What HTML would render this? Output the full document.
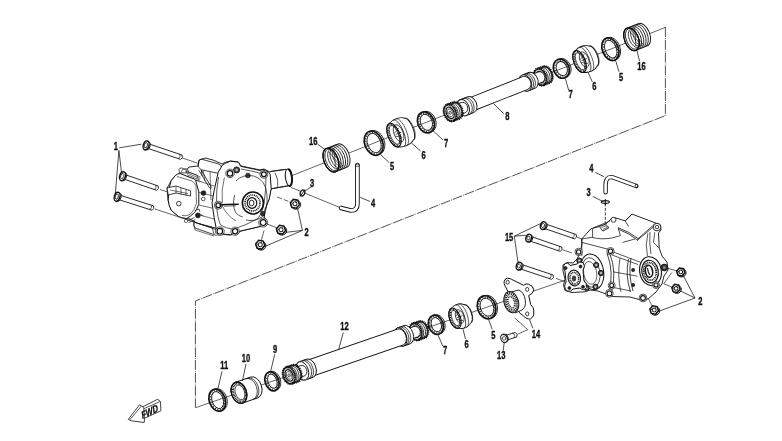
<!DOCTYPE html>
<html><head><meta charset="utf-8"><style>
html,body{margin:0;padding:0;background:#fff;}
svg{display:block;filter:grayscale(1);}
text{font-family:"Liberation Sans",sans-serif;font-weight:bold;fill:#111;text-anchor:middle;stroke:#111;stroke-width:0.35px;}
</style></head><body>
<svg width="782" height="441" viewBox="0 0 782 441">
<rect width="782" height="441" fill="#fff"/>
<path d="M665.4,27 L665.4,115.6 L195.4,301 L195.4,407.7" fill="none" stroke="#333" stroke-width="0.85" stroke-dasharray="10 1 0.8 1"/><line x1="291" y1="176" x2="665.38" y2="27.37" stroke="#222" stroke-width="0.7"/><line x1="195.5" y1="407.7" x2="573.63" y2="277.25" stroke="#222" stroke-width="0.7"/><g transform="translate(291,176) rotate(-21.65)"><g transform="translate(0,-1.5)"><path d="M367,-12 L379,-12 A7,12 0 0 1 379,12 L367,12 A7,12 0 0 1 367,-12Z" fill="#fff" stroke="#111" stroke-width="0.9"/><ellipse cx="367" cy="0" rx="7" ry="12" fill="#fff" stroke="#111" stroke-width="0.9"/><path d="M369.4,-12 A7,12 0 0 1 369.4,12" fill="none" stroke="#111" stroke-width="0.8"/><path d="M371.8,-12 A7,12 0 0 1 371.8,12" fill="none" stroke="#111" stroke-width="0.8"/><path d="M374.2,-12 A7,12 0 0 1 374.2,12" fill="none" stroke="#111" stroke-width="0.8"/><path d="M376.6,-12 A7,12 0 0 1 376.6,12" fill="none" stroke="#111" stroke-width="0.8"/><ellipse cx="367" cy="0" rx="7" ry="12" fill="none" stroke="#111" stroke-width="1.3" /><ellipse cx="367.9" cy="0" rx="6.1" ry="10.9" fill="none" stroke="#111" stroke-width="0.8" /><path d="M370,-9.8 A5.2,9.8 0 0 0 370,9.8" fill="none" stroke="#111" stroke-width="0.7"/><path d="M372.5,-9.8 A5.2,9.8 0 0 0 372.5,9.8" fill="none" stroke="#111" stroke-width="0.7"/><path d="M375,-9.8 A5.2,9.8 0 0 0 375,9.8" fill="none" stroke="#111" stroke-width="0.6"/><path d="M368,-8 L374,9 M368.5,8 L374,-9 M370,-10 L376,9.5" stroke="#111" stroke-width="0.6"/></g><path d="M343.6,-11.8 L345.4,-11.8 A8,11.8 0 0 1 345.4,11.8 L343.6,11.8" fill="none" stroke="#111" stroke-width="0.8"/><ellipse cx="343.6" cy="0" rx="8" ry="11.8" fill="none" stroke="#111" stroke-width="1.7" /><ellipse cx="343.8" cy="0" rx="6.7" ry="10.5" fill="none" stroke="#333" stroke-width="1.2" stroke-dasharray="1.2 1.4"/><ellipse cx="344" cy="0" rx="5.6" ry="9.3" fill="none" stroke="#111" stroke-width="0.9" /><path d="M310.5,-11.6 C314.5,-14.2 322,-14 325,-10.8 A4.2,10.8 0 0 1 325,10.8 C322,14 314.5,14.2 310.5,11.6 A5.8,11.6 0 0 1 310.5,-11.6Z" fill="#fff" stroke="#111" stroke-width="0.9"/><path d="M315.5,-13.4 A4.93,13.4 0 0 1 315.5,13.4" fill="none" stroke="#111" stroke-width="0.7"/><path d="M318.5,-13.4 A4.93,13.4 0 0 1 318.5,13.4" fill="none" stroke="#111" stroke-width="0.6"/><path d="M325,-10.8 A4.93,10.8 0 0 1 325,10.8" fill="none" stroke="#111" stroke-width="0.6"/><ellipse cx="310.5" cy="0" rx="5.8" ry="11.6" fill="none" stroke="#111" stroke-width="1.0" /><ellipse cx="310.8" cy="0" rx="4.8" ry="10.3" fill="none" stroke="#111" stroke-width="1.7" stroke-dasharray="0.9 0.8"/><ellipse cx="311" cy="0" rx="3.8" ry="9" fill="none" stroke="#111" stroke-width="0.7" /><ellipse cx="315.5" cy="0" rx="4.3" ry="8.1" fill="none" stroke="#111" stroke-width="0.7" /><path d="M311.5,-1.5 L317.5,-5 M311.5,1.5 L317.5,5 M312.5,0 L318.5,0" stroke="#111" stroke-width="0.6"/><path d="M290.9,-9.8 L292.7,-9.8 A7.8,9.8 0 0 1 292.7,9.8 L290.9,9.8" fill="none" stroke="#111" stroke-width="0.8"/><ellipse cx="290.9" cy="0" rx="7.8" ry="9.8" fill="none" stroke="#111" stroke-width="1.7" /><ellipse cx="291.1" cy="0" rx="6.5" ry="8.5" fill="none" stroke="#333" stroke-width="1.2" stroke-dasharray="1.2 1.4"/><ellipse cx="291.3" cy="0" rx="5.4" ry="7.3" fill="none" stroke="#111" stroke-width="0.9" /><path d="M268.1,-8.6 L274.6,-8.6 A5.8,8.6 0 0 1 274.6,8.6 L268.1,8.6 A5.8,8.6 0 0 1 268.1,-8.6Z" fill="#fff" stroke="#111" stroke-width="1.0"/><ellipse cx="268.1" cy="0" rx="5.8" ry="8.6" fill="#fff" stroke="#111" stroke-width="1.0"/><path d="M268.1,-8.6 L274.6,-8.6 A5.8,8.6 0 0 1 274.6,8.6 L268.1,8.6" fill="none" stroke="#111" stroke-width="2.6" stroke-dasharray="1 0.8"/><path d="M270.1,-8.6 A5.8,8.6 0 0 1 270.1,8.6" fill="none" stroke="#222" stroke-width="0.8"/><path d="M272.1,-8.6 A5.8,8.6 0 0 1 272.1,8.6" fill="none" stroke="#222" stroke-width="0.8"/><path d="M274.1,-8.6 A5.8,8.6 0 0 1 274.1,8.6" fill="none" stroke="#222" stroke-width="0.8"/><ellipse cx="268.1" cy="0" rx="5.8" ry="8.6" fill="none" stroke="#111" stroke-width="2.6" stroke-dasharray="1 0.8"/><ellipse cx="268.1" cy="0" rx="3.8" ry="6" fill="none" stroke="#111" stroke-width="1.2" /><ellipse cx="268.1" cy="0" rx="2.6" ry="4.1" fill="none" stroke="#111" stroke-width="0.6" /><ellipse cx="268.1" cy="0" rx="1.1" ry="1.5" fill="none" stroke="#111" stroke-width="0.8" /><path d="M259.1,-5.5 L268.1,-5.5 A4.5,5.5 0 0 1 268.1,5.5 L259.1,5.5 A4.5,5.5 0 0 1 259.1,-5.5Z" fill="#fff" stroke="#111" stroke-width="0.8"/><ellipse cx="259.1" cy="0" rx="4.5" ry="5.5" fill="#fff" stroke="#111" stroke-width="0.8"/><path d="M252.1,-8.5 L259.1,-8.5 A6,8.5 0 0 1 259.1,8.5 L252.1,8.5 A6,8.5 0 0 1 252.1,-8.5Z" fill="#fff" stroke="#111" stroke-width="0.9"/><ellipse cx="252.1" cy="0" rx="6" ry="8.5" fill="#fff" stroke="#111" stroke-width="0.9"/><path d="M254.1,-8.5 A6,8.5 0 0 1 254.1,8.5 M256.1,-8.5 A6,8.5 0 0 1 256.1,8.5" fill="none" stroke="#111" stroke-width="0.7"/><path d="M193.2,-6.8 L252.1,-6.8 A5.5,6.8 0 0 1 252.1,6.8 L193.2,6.8 A5.5,6.8 0 0 1 193.2,-6.8Z" fill="#fff" stroke="#111" stroke-width="0.9"/><ellipse cx="193.2" cy="0" rx="5.5" ry="6.8" fill="#fff" stroke="#111" stroke-width="0.9"/><path d="M185.2,-8.5 L193.2,-8.5 A6,8.5 0 0 1 193.2,8.5 L185.2,8.5 A6,8.5 0 0 1 185.2,-8.5Z" fill="#fff" stroke="#111" stroke-width="0.9"/><ellipse cx="185.2" cy="0" rx="6" ry="8.5" fill="#fff" stroke="#111" stroke-width="0.9"/><path d="M188.2,-8.5 A6,8.5 0 0 1 188.2,8.5 M190.2,-8.5 A6,8.5 0 0 1 190.2,8.5" fill="none" stroke="#111" stroke-width="0.7"/><path d="M178.2,-5.5 L185.2,-5.5 A4.5,5.5 0 0 1 185.2,5.5 L178.2,5.5 A4.5,5.5 0 0 1 178.2,-5.5Z" fill="#fff" stroke="#111" stroke-width="0.8"/><ellipse cx="178.2" cy="0" rx="4.5" ry="5.5" fill="#fff" stroke="#111" stroke-width="0.8"/><path d="M171.2,-8.6 L177.7,-8.6 A5.8,8.6 0 0 1 177.7,8.6 L171.2,8.6 A5.8,8.6 0 0 1 171.2,-8.6Z" fill="#fff" stroke="#111" stroke-width="1.0"/><ellipse cx="171.2" cy="0" rx="5.8" ry="8.6" fill="#fff" stroke="#111" stroke-width="1.0"/><path d="M171.2,-8.6 L177.7,-8.6 A5.8,8.6 0 0 1 177.7,8.6 L171.2,8.6" fill="none" stroke="#111" stroke-width="2.6" stroke-dasharray="1 0.8"/><path d="M173.2,-8.6 A5.8,8.6 0 0 1 173.2,8.6" fill="none" stroke="#222" stroke-width="0.8"/><path d="M175.2,-8.6 A5.8,8.6 0 0 1 175.2,8.6" fill="none" stroke="#222" stroke-width="0.8"/><path d="M177.2,-8.6 A5.8,8.6 0 0 1 177.2,8.6" fill="none" stroke="#222" stroke-width="0.8"/><ellipse cx="171.2" cy="0" rx="5.8" ry="8.6" fill="none" stroke="#111" stroke-width="2.6" stroke-dasharray="1 0.8"/><ellipse cx="171.2" cy="0" rx="3.8" ry="6" fill="none" stroke="#111" stroke-width="1.2" /><ellipse cx="171.2" cy="0" rx="2.6" ry="4.1" fill="none" stroke="#111" stroke-width="0.6" /><ellipse cx="171.2" cy="0" rx="1.1" ry="1.5" fill="none" stroke="#111" stroke-width="0.8" /><path d="M145.2,-10.8 L147,-10.8 A8.2,10.8 0 0 1 147,10.8 L145.2,10.8" fill="none" stroke="#111" stroke-width="0.8"/><ellipse cx="145.2" cy="0" rx="8.2" ry="10.8" fill="none" stroke="#111" stroke-width="1.7" /><ellipse cx="145.4" cy="0" rx="6.9" ry="9.5" fill="none" stroke="#333" stroke-width="1.2" stroke-dasharray="1.2 1.4"/><ellipse cx="145.6" cy="0" rx="5.8" ry="8.3" fill="none" stroke="#111" stroke-width="0.9" /><path d="M110.8,-12.6 C114.8,-15.2 123.8,-15 126.8,-11.8 A4.2,11.8 0 0 1 126.8,11.8 C123.8,15 114.8,15.2 110.8,12.6 A6,12.6 0 0 1 110.8,-12.6Z" fill="#fff" stroke="#111" stroke-width="0.9"/><path d="M115.8,-14.4 A5.1,14.4 0 0 1 115.8,14.4" fill="none" stroke="#111" stroke-width="0.7"/><path d="M118.8,-14.4 A5.1,14.4 0 0 1 118.8,14.4" fill="none" stroke="#111" stroke-width="0.6"/><path d="M126.8,-11.8 A5.1,11.8 0 0 1 126.8,11.8" fill="none" stroke="#111" stroke-width="0.6"/><ellipse cx="110.8" cy="0" rx="6" ry="12.6" fill="none" stroke="#111" stroke-width="1.0" /><ellipse cx="111.1" cy="0" rx="5" ry="11.3" fill="none" stroke="#111" stroke-width="1.7" stroke-dasharray="0.9 0.8"/><ellipse cx="111.3" cy="0" rx="4" ry="10" fill="none" stroke="#111" stroke-width="0.7" /><ellipse cx="115.8" cy="0" rx="4.5" ry="9.1" fill="none" stroke="#111" stroke-width="0.7" /><path d="M111.8,-1.5 L117.8,-5 M111.8,1.5 L117.8,5 M112.8,0 L118.8,0" stroke="#111" stroke-width="0.6"/><path d="M89,-12.5 L90.8,-12.5 A9,12.5 0 0 1 90.8,12.5 L89,12.5" fill="none" stroke="#111" stroke-width="0.8"/><ellipse cx="89" cy="0" rx="9" ry="12.5" fill="none" stroke="#111" stroke-width="1.7" /><ellipse cx="89.2" cy="0" rx="7.7" ry="11.2" fill="none" stroke="#333" stroke-width="1.2" stroke-dasharray="1.2 1.4"/><ellipse cx="89.4" cy="0" rx="6.6" ry="10" fill="none" stroke="#111" stroke-width="0.9" /><path d="M43,-12.5 L55,-12.5 A7,12.5 0 0 1 55,12.5 L43,12.5 A7,12.5 0 0 1 43,-12.5Z" fill="#fff" stroke="#111" stroke-width="0.9"/><ellipse cx="43" cy="0" rx="7" ry="12.5" fill="#fff" stroke="#111" stroke-width="0.9"/><path d="M45.4,-12.5 A7,12.5 0 0 1 45.4,12.5" fill="none" stroke="#111" stroke-width="0.8"/><path d="M47.8,-12.5 A7,12.5 0 0 1 47.8,12.5" fill="none" stroke="#111" stroke-width="0.8"/><path d="M50.2,-12.5 A7,12.5 0 0 1 50.2,12.5" fill="none" stroke="#111" stroke-width="0.8"/><path d="M52.6,-12.5 A7,12.5 0 0 1 52.6,12.5" fill="none" stroke="#111" stroke-width="0.8"/><ellipse cx="43" cy="0" rx="7" ry="12.5" fill="none" stroke="#111" stroke-width="1.3" /><ellipse cx="43.9" cy="0" rx="6.1" ry="11.4" fill="none" stroke="#111" stroke-width="0.8" /><path d="M46,-10.3 A5.2,10.3 0 0 0 46,10.3" fill="none" stroke="#111" stroke-width="0.7"/><path d="M48.5,-10.3 A5.2,10.3 0 0 0 48.5,10.3" fill="none" stroke="#111" stroke-width="0.7"/><path d="M51,-10.3 A5.2,10.3 0 0 0 51,10.3" fill="none" stroke="#111" stroke-width="0.6"/><path d="M44,-8.5 L50,9.5 M44.5,8.5 L50,-9.5 M46,-10.5 L52,10" stroke="#111" stroke-width="0.6"/></g><g transform="translate(195.5,407.7) rotate(-19.03)"><path d="M307.9,-11.8 L309.7,-11.8 A9,11.8 0 0 1 309.7,11.8 L307.9,11.8" fill="none" stroke="#111" stroke-width="0.8"/><ellipse cx="307.9" cy="0" rx="9" ry="11.8" fill="none" stroke="#111" stroke-width="1.7" /><ellipse cx="308.1" cy="0" rx="7.7" ry="10.5" fill="none" stroke="#333" stroke-width="1.2" stroke-dasharray="1.2 1.4"/><ellipse cx="308.3" cy="0" rx="6.6" ry="9.3" fill="none" stroke="#111" stroke-width="0.9" /><path d="M274.5,-10.6 C278.5,-13.2 284.5,-13 287.5,-9.8 A4.2,9.8 0 0 1 287.5,9.8 C284.5,13 278.5,13.2 274.5,10.6 A5.5,10.6 0 0 1 274.5,-10.6Z" fill="#fff" stroke="#111" stroke-width="0.9"/><path d="M279.5,-12.4 A4.67,12.4 0 0 1 279.5,12.4" fill="none" stroke="#111" stroke-width="0.7"/><path d="M282.5,-12.4 A4.67,12.4 0 0 1 282.5,12.4" fill="none" stroke="#111" stroke-width="0.6"/><path d="M287.5,-9.8 A4.67,9.8 0 0 1 287.5,9.8" fill="none" stroke="#111" stroke-width="0.6"/><ellipse cx="274.5" cy="0" rx="5.5" ry="10.6" fill="none" stroke="#111" stroke-width="1.0" /><ellipse cx="274.8" cy="0" rx="4.5" ry="9.3" fill="none" stroke="#111" stroke-width="1.7" stroke-dasharray="0.9 0.8"/><ellipse cx="275" cy="0" rx="3.5" ry="8" fill="none" stroke="#111" stroke-width="0.7" /><ellipse cx="279.5" cy="0" rx="4" ry="7.1" fill="none" stroke="#111" stroke-width="0.7" /><path d="M275.5,-1.5 L281.5,-5 M275.5,1.5 L281.5,5 M276.5,0 L282.5,0" stroke="#111" stroke-width="0.6"/><path d="M254.3,-9.8 L256.1,-9.8 A7.3,9.8 0 0 1 256.1,9.8 L254.3,9.8" fill="none" stroke="#111" stroke-width="0.8"/><ellipse cx="254.3" cy="0" rx="7.3" ry="9.8" fill="none" stroke="#111" stroke-width="1.7" /><ellipse cx="254.5" cy="0" rx="6" ry="8.5" fill="none" stroke="#333" stroke-width="1.2" stroke-dasharray="1.2 1.4"/><ellipse cx="254.7" cy="0" rx="4.9" ry="7.3" fill="none" stroke="#111" stroke-width="0.9" /><path d="M232.9,-8.6 L239.4,-8.6 A5.8,8.6 0 0 1 239.4,8.6 L232.9,8.6 A5.8,8.6 0 0 1 232.9,-8.6Z" fill="#fff" stroke="#111" stroke-width="1.0"/><ellipse cx="232.9" cy="0" rx="5.8" ry="8.6" fill="#fff" stroke="#111" stroke-width="1.0"/><path d="M232.9,-8.6 L239.4,-8.6 A5.8,8.6 0 0 1 239.4,8.6 L232.9,8.6" fill="none" stroke="#111" stroke-width="2.6" stroke-dasharray="1 0.8"/><path d="M234.9,-8.6 A5.8,8.6 0 0 1 234.9,8.6" fill="none" stroke="#222" stroke-width="0.8"/><path d="M236.9,-8.6 A5.8,8.6 0 0 1 236.9,8.6" fill="none" stroke="#222" stroke-width="0.8"/><path d="M238.9,-8.6 A5.8,8.6 0 0 1 238.9,8.6" fill="none" stroke="#222" stroke-width="0.8"/><ellipse cx="232.9" cy="0" rx="5.8" ry="8.6" fill="none" stroke="#111" stroke-width="2.6" stroke-dasharray="1 0.8"/><ellipse cx="232.9" cy="0" rx="3.8" ry="6" fill="none" stroke="#111" stroke-width="1.2" /><ellipse cx="232.9" cy="0" rx="2.6" ry="4.1" fill="none" stroke="#111" stroke-width="0.6" /><ellipse cx="232.9" cy="0" rx="1.1" ry="1.5" fill="none" stroke="#111" stroke-width="0.8" /><path d="M223.9,-5.5 L232.9,-5.5 A4.5,5.5 0 0 1 232.9,5.5 L223.9,5.5 A4.5,5.5 0 0 1 223.9,-5.5Z" fill="#fff" stroke="#111" stroke-width="0.8"/><ellipse cx="223.9" cy="0" rx="4.5" ry="5.5" fill="#fff" stroke="#111" stroke-width="0.8"/><path d="M216.9,-9.6 L223.9,-9.6 A6,9.6 0 0 1 223.9,9.6 L216.9,9.6 A6,9.6 0 0 1 216.9,-9.6Z" fill="#fff" stroke="#111" stroke-width="0.9"/><ellipse cx="216.9" cy="0" rx="6" ry="9.6" fill="#fff" stroke="#111" stroke-width="0.9"/><path d="M218.9,-9.6 A6,9.6 0 0 1 218.9,9.6 M220.9,-9.6 A6,9.6 0 0 1 220.9,9.6" fill="none" stroke="#111" stroke-width="0.7"/><path d="M121,-8.4 L216.9,-8.4 A5.5,8.4 0 0 1 216.9,8.4 L121,8.4 A5.5,8.4 0 0 1 121,-8.4Z" fill="#fff" stroke="#111" stroke-width="0.9"/><ellipse cx="121" cy="0" rx="5.5" ry="8.4" fill="#fff" stroke="#111" stroke-width="0.9"/><path d="M113,-9.6 L121,-9.6 A6,9.6 0 0 1 121,9.6 L113,9.6 A6,9.6 0 0 1 113,-9.6Z" fill="#fff" stroke="#111" stroke-width="0.9"/><ellipse cx="113" cy="0" rx="6" ry="9.6" fill="#fff" stroke="#111" stroke-width="0.9"/><path d="M116,-9.6 A6,9.6 0 0 1 116,9.6 M118,-9.6 A6,9.6 0 0 1 118,9.6" fill="none" stroke="#111" stroke-width="0.7"/><path d="M106,-5.5 L113,-5.5 A4.5,5.5 0 0 1 113,5.5 L106,5.5 A4.5,5.5 0 0 1 106,-5.5Z" fill="#fff" stroke="#111" stroke-width="0.8"/><ellipse cx="106" cy="0" rx="4.5" ry="5.5" fill="#fff" stroke="#111" stroke-width="0.8"/><path d="M99,-8.6 L105.5,-8.6 A5.8,8.6 0 0 1 105.5,8.6 L99,8.6 A5.8,8.6 0 0 1 99,-8.6Z" fill="#fff" stroke="#111" stroke-width="1.0"/><ellipse cx="99" cy="0" rx="5.8" ry="8.6" fill="#fff" stroke="#111" stroke-width="1.0"/><path d="M99,-8.6 L105.5,-8.6 A5.8,8.6 0 0 1 105.5,8.6 L99,8.6" fill="none" stroke="#111" stroke-width="2.6" stroke-dasharray="1 0.8"/><path d="M101,-8.6 A5.8,8.6 0 0 1 101,8.6" fill="none" stroke="#222" stroke-width="0.8"/><path d="M103,-8.6 A5.8,8.6 0 0 1 103,8.6" fill="none" stroke="#222" stroke-width="0.8"/><path d="M105,-8.6 A5.8,8.6 0 0 1 105,8.6" fill="none" stroke="#222" stroke-width="0.8"/><ellipse cx="99" cy="0" rx="5.8" ry="8.6" fill="none" stroke="#111" stroke-width="2.6" stroke-dasharray="1 0.8"/><ellipse cx="99" cy="0" rx="3.8" ry="6" fill="none" stroke="#111" stroke-width="1.2" /><ellipse cx="99" cy="0" rx="2.6" ry="4.1" fill="none" stroke="#111" stroke-width="0.6" /><ellipse cx="99" cy="0" rx="1.1" ry="1.5" fill="none" stroke="#111" stroke-width="0.8" /><path d="M80.9,-9.8 L82.7,-9.8 A6.8,9.8 0 0 1 82.7,9.8 L80.9,9.8" fill="none" stroke="#111" stroke-width="0.8"/><ellipse cx="80.9" cy="0" rx="6.8" ry="9.8" fill="none" stroke="#111" stroke-width="1.7" /><ellipse cx="81.1" cy="0" rx="5.5" ry="8.5" fill="none" stroke="#333" stroke-width="1.2" stroke-dasharray="1.2 1.4"/><ellipse cx="81.3" cy="0" rx="4.4" ry="7.3" fill="none" stroke="#111" stroke-width="0.9" /><path d="M46,-11 L62,-11 A7.5,11 0 0 1 62,11 L46,11 A7.5,11 0 0 1 46,-11Z" fill="#fff" stroke="#111" stroke-width="0.9"/><ellipse cx="46" cy="0" rx="7.5" ry="11" fill="#fff" stroke="#111" stroke-width="0.9"/><path d="M57,-11 A7.5,11 0 0 1 57,11 M59,-10.8 A7.2,10.8 0 0 1 59,10.8" fill="none" stroke="#111" stroke-width="0.7"/><ellipse cx="46" cy="0" rx="7.5" ry="11" fill="none" stroke="#111" stroke-width="1.4" /><ellipse cx="46.5" cy="0" rx="6" ry="9.3" fill="none" stroke="#111" stroke-width="2.2" stroke-dasharray="0.8 0.7"/><ellipse cx="47" cy="0" rx="4.6" ry="7.6" fill="none" stroke="#111" stroke-width="0.7" /><path d="M23,-11.3 L24.8,-11.3 A8,11.3 0 0 1 24.8,11.3 L23,11.3" fill="none" stroke="#111" stroke-width="0.8"/><ellipse cx="23" cy="0" rx="8" ry="11.3" fill="none" stroke="#111" stroke-width="1.7" /><ellipse cx="23.2" cy="0" rx="6.7" ry="10" fill="none" stroke="#333" stroke-width="1.2" stroke-dasharray="1.2 1.4"/><ellipse cx="23.4" cy="0" rx="5.6" ry="8.8" fill="none" stroke="#111" stroke-width="0.9" /></g><line x1="150" y1="147" x2="200" y2="164" stroke="#222" stroke-width="0.7" /><line x1="160" y1="189.5" x2="186" y2="198" stroke="#222" stroke-width="0.7" /><line x1="155" y1="209" x2="200" y2="224" stroke="#222" stroke-width="0.7" /><path d="M186,171 L189,167 L198,166 L199,160 L205,158 L213,160 L222,164 L226,162 L231,161 L238,162 L241,166 L260,170 L264,169 L270,172 L271,171.4 L285.5,169.4 L289,172 L291,178 L289,185.7 L271,188.8 L269,199 L265,209 L264,217 L266,220 L265.5,225.5 L260,226.5 L241,231 L236,234 L230,235 L218,234 L216,228 L210,227 L197,223 L190,219 L186,218.5 L178,216 L171,210 L168,200 L167,188 L169,185 L171,181 L175,176 L180,173.6Z" fill="#fff" stroke="#111" stroke-width="0.9"/><path d="M201,159 Q198.5,160 198.4,164 L198.4,167 L201.3,169.8 L222,174 M201,159 L219.4,164.2 M201.3,169.8 L202,176 M219.4,164.2 Q223,167 222,174" fill="none" stroke="#111" stroke-width="0.8"/><path d="M187.7,171.5 L200.5,177 M187.3,173 L200.3,178.6 M187,174.6 L200,180.2 M186.7,176.2 L199.7,181.8" fill="none" stroke="#111" stroke-width="0.6"/><path d="M199,170.4 L209.2,187.4 M201,169.6 L211,186.6 M209.2,187.4 Q211.5,190 211,186.6" fill="none" stroke="#111" stroke-width="0.8"/><path d="M179,169.5 Q179.5,167.5 182,168 L184,169 Q186,168 188,169.5 L188.2,173 L179.5,172.8 Z" fill="#fff" stroke="#111" stroke-width="0.7"/><path d="M194.5,222.2 L216,229.5 M195,228 L216.5,235.5 M194.5,222.2 Q192.5,225 195,228" fill="none" stroke="#111" stroke-width="0.8"/><path d="M187.7,220.5 L194.5,217.7 M188.5,222.5 L195.3,219.7" fill="none" stroke="#111" stroke-width="0.7"/><path d="M196,180 L214,186 M198,192 L213,196 M199,205 L212,208 M196,214 L214,219 M203,170 L205,181 M210,172 L211,200 M193,221 L195,230 L214,236" fill="none" stroke="#111" stroke-width="0.6"/><path d="M200,224 L212,227 L214,234" fill="none" stroke="#111" stroke-width="0.7"/><path d="M175.3,175.6 Q178,173 180.4,173.6 L190.6,177.7 Q195,178.5 195.7,180.7 L198.8,191.9 L198.8,204.2 Q197,209 194.7,212.3 Q190,217 186.5,218.5 Q181,218 178.4,216.4 L171.2,210.3 Q168.5,205 168.2,200.1 L169.2,189.9 Q170,183 171.2,180.7 Z" fill="#fff" stroke="#111" stroke-width="1"/><path d="M177,176.5 L192,181 Q195,183 196,186 L196.5,203 Q195,210 190,214.5 Q186,216.5 182,215.5" fill="none" stroke="#111" stroke-width="0.6"/><path d="M167.1,187.9 L176,186 L190.6,190.9 L190.6,196 L176,193 L168.2,195 Z" fill="#fff" stroke="#111" stroke-width="0.8"/><path d="M170,190 L188,193.5 M176,186 L176,193 M181,188 L181,194.5 M186,189.5 L186,195.5" fill="none" stroke="#111" stroke-width="0.6"/><circle cx="178.8" cy="203.6" r="2.3" fill="#fff" stroke="#111" stroke-width="0.8"/><path d="M181,172 L183,169 L187,170 L186,173 M185,171 L197,175 L198,179" fill="none" stroke="#111" stroke-width="0.6"/><circle cx="203.5" cy="193.1" r="2.4" fill="#222" stroke="#111" stroke-width="0.6"/><circle cx="203.2" cy="199" r="1.8" fill="#fff" stroke="#111" stroke-width="0.7"/><circle cx="197.9" cy="215.4" r="2.4" fill="#222" stroke="#111" stroke-width="0.8"/><path d="M196,210 L199,209 L200,212 M200.5,214 L203,216" fill="none" stroke="#111" stroke-width="0.7"/><circle cx="186" cy="221" r="1.6" fill="#fff" stroke="#111" stroke-width="0.6"/><path d="M225.3,163.3 L230.4,161.2 L238.6,162.2 L240.6,166.3 L260,170.4 L263,169.4 L269.2,172.4 L270.2,174.5 L271.2,188.8 L269.2,199 L265.1,209.2 L264.1,217.3 L266,220 L265.5,225.5 L260,226.5 L240.6,231 L235.5,233.7 L230.4,234.7 L218.2,233.7 L216.1,227.6 L214.1,217.3 L212,203 L214.1,190.8 L218.2,172.4 L222.2,165.3Z" fill="#fff" stroke="#111" stroke-width="1"/><path d="M218.5,177 Q216,190 216.5,205 Q217.5,218 220.3,224.6 Q226,229 234.6,228.7 L245.8,224.6 L258,218.5 Q262,214 264,204 Q266,190 266,178 Q262,173 256,172 L241,169" fill="none" stroke="#111" stroke-width="0.7"/><path d="M224.4,177.5 Q221,190 222.3,203" fill="none" stroke="#111" stroke-width="0.6"/><circle cx="236.6" cy="169.9" r="3" fill="#444" stroke="#111" stroke-width="0.9"/><circle cx="236.6" cy="169.9" r="1.3" fill="#bbb"/><circle cx="247.9" cy="175.5" r="2.3" fill="#444" stroke="#111" stroke-width="0.8"/><circle cx="262.8" cy="213.6" r="2.2" fill="#333" stroke="#111" stroke-width="0.8"/><path d="M234.6,195 Q232,206 235.6,212.3 Q238,216 242.8,217" fill="none" stroke="#111" stroke-width="0.7"/><path d="M275,172.8 Q279,180 277.7,187.6" fill="none" stroke="#111" stroke-width="0.7"/><path d="M236,181 Q242,174 254,176 Q266,180 267,195 Q268,210 262,217 Q254,222 246,220" fill="none" stroke="#111" stroke-width="0.7"/><path d="M222,205 Q226,215 236,221" fill="none" stroke="#111" stroke-width="0.6"/><ellipse cx="252.9" cy="203" rx="10.5" ry="11" fill="#fff" stroke="#111" stroke-width="1.6"/><ellipse cx="252.5" cy="203" rx="7.5" ry="8" fill="none" stroke="#111" stroke-width="1.6" stroke-dasharray="1 0.8"/><ellipse cx="252" cy="203" rx="4.8" ry="5.3" fill="none" stroke="#111" stroke-width="1.2"/><ellipse cx="251.6" cy="203" rx="2.4" ry="2.8" fill="none" stroke="#111" stroke-width="0.9"/><path d="M271,171.4 L285.5,169.4 M271.5,188.8 L288.6,185.7" fill="none" stroke="#111" stroke-width="0.8"/><ellipse cx="288.6" cy="177.4" rx="3.2" ry="8.5" fill="#fff" stroke="#111" stroke-width="1.0" transform="rotate(-8 288.6 177.4)"/><path d="M288.2,169 A3.2,8.5 -8 0 1 289,185.8" fill="none" stroke="#111" stroke-width="2"/><circle cx="230" cy="173.4" r="4.300000000000001" fill="#fff" stroke="#111" stroke-width="0.7"/><circle cx="230" cy="173.4" r="2.7" fill="#fff" stroke="#111" stroke-width="1.2"/><circle cx="263.9" cy="174.3" r="4.0" fill="#fff" stroke="#111" stroke-width="0.7"/><circle cx="263.9" cy="174.3" r="2.4" fill="#fff" stroke="#111" stroke-width="1.2"/><circle cx="218.3" cy="205.2" r="4.0" fill="#fff" stroke="#111" stroke-width="0.7"/><circle cx="218.3" cy="205.2" r="2.4" fill="#fff" stroke="#111" stroke-width="1.2"/><circle cx="219.8" cy="231.2" r="4.4" fill="#fff" stroke="#111" stroke-width="0.7"/><circle cx="219.8" cy="231.2" r="2.8" fill="#fff" stroke="#111" stroke-width="1.2"/><circle cx="235.1" cy="231.2" r="4.2" fill="#fff" stroke="#111" stroke-width="0.7"/><circle cx="235.1" cy="231.2" r="2.6" fill="#fff" stroke="#111" stroke-width="1.2"/><circle cx="263.2" cy="222.6" r="4.5" fill="#fff" stroke="#111" stroke-width="0.7"/><circle cx="263.2" cy="222.6" r="2.9" fill="#fff" stroke="#111" stroke-width="1.2"/><path d="M219.5,205 L226,204.5 L238.7,204.2" fill="none" stroke="#111" stroke-width="1.4"/><path d="M224,206.2 L236,205.8" fill="none" stroke="#111" stroke-width="0.6"/><g transform="translate(146.1,145.4) rotate(18.53)"><path d="M2,-2.3 L37.21,-2.3 Q39.51,0 37.21,2.3 L2,2.3" fill="#fff" stroke="#111" stroke-width="0.8"/><path d="M34.21,-2.3 A1.5,2.3 0 0 1 34.21,2.3" fill="none" stroke="#111" stroke-width="0.6"/><ellipse cx="1.8" cy="0" rx="2.2" ry="4.2" fill="#fff" stroke="#111" stroke-width="0.9"/><ellipse cx="0" cy="0" rx="2.8" ry="4.6" fill="#fff" stroke="#111" stroke-width="1.4"/><ellipse cx="-0.3" cy="0" rx="1.5" ry="2.7" fill="none" stroke="#111" stroke-width="0.8"/></g><g transform="translate(122.5,176.2) rotate(18.86)"><path d="M2,-2.3 L36.86,-2.3 Q39.16,0 36.86,2.3 L2,2.3" fill="#fff" stroke="#111" stroke-width="0.8"/><path d="M33.86,-2.3 A1.5,2.3 0 0 1 33.86,2.3" fill="none" stroke="#111" stroke-width="0.6"/><ellipse cx="1.8" cy="0" rx="2.2" ry="4.2" fill="#fff" stroke="#111" stroke-width="0.9"/><ellipse cx="0" cy="0" rx="2.8" ry="4.6" fill="#fff" stroke="#111" stroke-width="1.4"/><ellipse cx="-0.3" cy="0" rx="1.5" ry="2.7" fill="none" stroke="#111" stroke-width="0.8"/></g><g transform="translate(117.1,196.7) rotate(17.64)"><path d="M2,-2.3 L37.43,-2.3 Q39.73,0 37.43,2.3 L2,2.3" fill="#fff" stroke="#111" stroke-width="0.8"/><path d="M34.43,-2.3 A1.5,2.3 0 0 1 34.43,2.3" fill="none" stroke="#111" stroke-width="0.6"/><ellipse cx="1.8" cy="0" rx="2.2" ry="4.2" fill="#fff" stroke="#111" stroke-width="0.9"/><ellipse cx="0" cy="0" rx="2.8" ry="4.6" fill="#fff" stroke="#111" stroke-width="1.4"/><ellipse cx="-0.3" cy="0" rx="1.5" ry="2.7" fill="none" stroke="#111" stroke-width="0.8"/></g><line x1="277.2" y1="197" x2="294.9" y2="203.8" stroke="#222" stroke-width="0.7" stroke-dasharray="5 2"/><line x1="266.3" y1="223.6" x2="281" y2="229.7" stroke="#222" stroke-width="0.7" /><line x1="264" y1="230.6" x2="260.2" y2="244.7" stroke="#222" stroke-width="0.7" /><ellipse cx="295.7" cy="204.6" rx="4.9" ry="4.6" fill="#fff" stroke="#111" stroke-width="1"/><polygon points="299.43,204.61 296.47,208.21 291.94,207.39 290.37,202.99 293.33,199.39 297.86,200.21" fill="#fff" stroke="#111" stroke-width="1.5"/><circle cx="294.9" cy="203.8" r="2.07" fill="none" stroke="#111" stroke-width="1"/><path d="M291.22,202.88 L293.52,203.8 M296.28,200.58 L295.82,202.65 M296.28,205.18 L297.66,207.02" stroke="#111" stroke-width="0.7"/><ellipse cx="281.8" cy="230.5" rx="4.9" ry="4.6" fill="#fff" stroke="#111" stroke-width="1"/><polygon points="285.53,230.51 282.57,234.11 278.04,233.29 276.47,228.89 279.43,225.29 283.96,226.11" fill="#fff" stroke="#111" stroke-width="1.5"/><circle cx="281" cy="229.7" r="2.07" fill="none" stroke="#111" stroke-width="1"/><path d="M277.32,228.78 L279.62,229.7 M282.38,226.48 L281.92,228.55 M282.38,231.08 L283.76,232.92" stroke="#111" stroke-width="0.7"/><ellipse cx="261" cy="245.5" rx="4.9" ry="4.6" fill="#fff" stroke="#111" stroke-width="1"/><polygon points="264.73,245.51 261.77,249.11 257.24,248.29 255.67,243.89 258.63,240.29 263.16,241.11" fill="#fff" stroke="#111" stroke-width="1.5"/><circle cx="260.2" cy="244.7" r="2.07" fill="none" stroke="#111" stroke-width="1"/><path d="M256.52,243.78 L258.82,244.7 M261.58,241.48 L261.12,243.55 M261.58,246.08 L262.96,247.92" stroke="#111" stroke-width="0.7"/><line x1="291" y1="187.4" x2="340.5" y2="207.8" stroke="#222" stroke-width="0.7" /><ellipse cx="302.5" cy="193" rx="2.2" ry="3.2" fill="#fff" stroke="#111" stroke-width="1.2" transform="rotate(20 302.5 193)"/><path d="M300.2,196.5 L304.8,189.5" stroke="#111" stroke-width="0.9"/><path d="M357.4,165 L357.4,204 Q357.4,210.5 351,210.5 L341,208" fill="none" stroke="#111" stroke-width="4.6" stroke-linecap="round" stroke-linejoin="round"/><path d="M357.4,165 L357.4,204 Q357.4,210.5 351,210.5 L341,208" fill="none" stroke="#fff" stroke-width="2.8" stroke-linecap="round" stroke-linejoin="round"/><ellipse cx="357.4" cy="165.3" rx="2.1" ry="1.1" fill="none" stroke="#111" stroke-width="0.7"/><line x1="576.9" y1="237.2" x2="592" y2="242.5" stroke="#222" stroke-width="0.7" /><line x1="562.4" y1="249.7" x2="572" y2="253" stroke="#222" stroke-width="0.7" /><path d="M581.8,239 L590.9,228.8 L593.1,228.2 L599.4,226.5 L605.6,224.3 L610.1,219.7 L613.5,217.5 L618,218.6 L625.2,220.9 L632,214.1 L655.8,223.1 L660.5,225 L661,230 L658.5,233 L659.2,248.1 L662,256 L667,262 L668,270 L664,276 L662,284 L656,292 L648,299 L641,300 L630,297 L612,296.5 L606,294 L598,291 L590,290 L585,291.8 L572,292.5 L565,290.5 L563.5,285 L565,279 L563,271 L563,265 L567,262.5 L573,263 L577,259 L580,253 L581.8,245Z" fill="#fff" stroke="#111" stroke-width="0.9"/><path d="M593,228 L610,221 M592.6,229 L592.6,237.3 M592,237.3 Q601,240 612.4,237.9 L620.4,235.6 L618,227.7 M581.8,239 L592,237.3 M581.8,242.4 L607.9,249.2 M622.6,242.4 L635,239 M581.8,239 L581.8,256" fill="none" stroke="#111" stroke-width="0.75"/><path d="M599.4,226.5 L605.6,224.3 L609,227.7 L602.8,231.1 Z" fill="#fff" stroke="#111" stroke-width="0.9"/><path d="M601.5,227.5 L606,225.8 L607.3,227.4 L603,229.3" fill="none" stroke="#111" stroke-width="0.6"/><circle cx="613.5" cy="219.8" r="2.5" fill="#fff" stroke="#111" stroke-width="0.8"/><path d="M618,227.7 L628.3,232.2 L638.8,239 M618.5,229.3 L628,233.6 L638,240.3" fill="none" stroke="#111" stroke-width="0.8"/><path d="M625.2,220.9 L628.6,226.5 M632,214.1 L625.2,220.9 M655.8,223.1 L637.7,239 M654,226.5 L637,240.5" fill="none" stroke="#111" stroke-width="0.75"/><circle cx="657" cy="227.1" r="3.8" fill="#fff" stroke="#111" stroke-width="0.9"/><circle cx="657" cy="227.1" r="1.7" fill="none" stroke="#111" stroke-width="0.8"/><path d="M647.9,233.3 Q645,245 647.4,256 M654.7,232.2 L653.5,242.4 L659.2,248.1 M650,232 Q649,243 651,254" fill="none" stroke="#111" stroke-width="0.7"/><path d="M612,251.5 L641.2,262.5 M612,255 L638,264.5 M613,271.8 L637.4,276.2 M613,287.4 L631,291 M620,258 Q617,275 621,292" fill="none" stroke="#111" stroke-width="0.7"/><path d="M628.5,259 Q625,275 630.5,292 M631,258 Q628,275 633,291" fill="none" stroke="#111" stroke-width="0.8"/><path d="M609.5,252.5 Q617.5,273 611,293.6 M607,253 Q614.5,273 608.5,293" fill="none" stroke="#111" stroke-width="0.8"/><ellipse cx="650.5" cy="271.2" rx="10.8" ry="14.6" fill="#fff" stroke="#111" stroke-width="1.1" transform="rotate(-10 650.5 271.2)"/><ellipse cx="650" cy="271.5" rx="8.2" ry="11.4" fill="#fff" stroke="#111" stroke-width="1.2" transform="rotate(-10 650.5 271.2)"/><ellipse cx="649.9" cy="271.3" rx="6.2" ry="8.8" fill="none" stroke="#111" stroke-width="1.7" stroke-dasharray="1 0.7" transform="rotate(-10 650.5 271.2)"/><ellipse cx="649" cy="271" rx="3.6" ry="6" fill="#fff" stroke="#111" stroke-width="1.6" transform="rotate(-10 650.5 271.2)"/><path d="M647.5,268 Q648,273 650,275" fill="none" stroke="#222" stroke-width="1.2"/><circle cx="664.3" cy="267.5" r="3.4" fill="#333" stroke="#111" stroke-width="0.8"/><circle cx="664.3" cy="267.5" r="1.3" fill="#999"/><circle cx="633.1" cy="270" r="1.9" fill="#222"/><circle cx="633.1" cy="285" r="1.9" fill="#222"/><circle cx="643" cy="298" r="3.9" fill="#fff" stroke="#111" stroke-width="0.7"/><circle cx="643" cy="298" r="2.4" fill="#fff" stroke="#111" stroke-width="1.1"/><circle cx="609.4" cy="293.4" r="3.9" fill="#fff" stroke="#111" stroke-width="0.7"/><circle cx="609.4" cy="293.4" r="2.4" fill="#fff" stroke="#111" stroke-width="1.1"/><circle cx="611.7" cy="285.5" r="3.5" fill="#fff" stroke="#111" stroke-width="0.7"/><circle cx="611.7" cy="285.5" r="2.0" fill="#fff" stroke="#111" stroke-width="1.1"/><circle cx="656" cy="285" r="3.5" fill="#fff" stroke="#111" stroke-width="0.7"/><circle cx="656" cy="285" r="2.0" fill="#fff" stroke="#111" stroke-width="1.1"/><circle cx="578.7" cy="251.9" r="3.7" fill="#fff" stroke="#111" stroke-width="0.7"/><circle cx="578.7" cy="251.9" r="2.2" fill="#fff" stroke="#111" stroke-width="1.1"/><circle cx="610.5" cy="251.2" r="3.7" fill="#fff" stroke="#111" stroke-width="0.7"/><circle cx="610.5" cy="251.2" r="2.2" fill="#fff" stroke="#111" stroke-width="1.1"/><ellipse cx="592.1" cy="271.8" rx="11.5" ry="18" fill="#fff" stroke="#111" stroke-width="1" transform="rotate(-10 592.1 271.8)"/><ellipse cx="590.8" cy="272.3" rx="9" ry="15" fill="none" stroke="#111" stroke-width="0.7" transform="rotate(-10 592.1 271.8)"/><ellipse cx="590" cy="272.5" rx="6.5" ry="11.5" fill="none" stroke="#111" stroke-width="0.6" transform="rotate(-10 592.1 271.8)"/><circle cx="579.3" cy="260.6" r="2.6" fill="#555" stroke="#111" stroke-width="1"/><circle cx="579.3" cy="260.6" r="1.1" fill="#ccc"/><circle cx="596.2" cy="265" r="2.6" fill="#555" stroke="#111" stroke-width="1"/><circle cx="596.2" cy="265" r="1.1" fill="#ccc"/><circle cx="595.5" cy="286.8" r="2.6" fill="#555" stroke="#111" stroke-width="1"/><circle cx="595.5" cy="286.8" r="1.1" fill="#ccc"/><circle cx="601" cy="273" r="2.6" fill="#555" stroke="#111" stroke-width="1"/><circle cx="601" cy="273" r="1.1" fill="#ccc"/><circle cx="586.5" cy="288" r="2.6" fill="#555" stroke="#111" stroke-width="1"/><circle cx="586.5" cy="288" r="1.1" fill="#ccc"/><path d="M565.2,263.5 Q562,267 565,271 L566,282 Q563,287 567,291 Q571,292.5 573,289 L580,288 Q584,291.5 586.5,287.5 Q587,283 584,281 L583,270 Q586,266 583,262.5 Q579,261 577,264 L570,265.5 Q568,261.5 565.2,263.5 Z" fill="#fff" stroke="#111" stroke-width="1"/><circle cx="565.6" cy="268" r="1.5" fill="#222" stroke="#111" stroke-width="0.7"/><circle cx="580.5" cy="266.5" r="1.5" fill="#222" stroke="#111" stroke-width="0.7"/><circle cx="569.4" cy="288" r="1.5" fill="#222" stroke="#111" stroke-width="0.7"/><circle cx="583" cy="286.8" r="1.5" fill="#222" stroke="#111" stroke-width="0.7"/><ellipse cx="574.3" cy="278" rx="6.2" ry="7.9" fill="#fff" stroke="#111" stroke-width="1.1" transform="rotate(-10 574.3 278)"/><ellipse cx="574.3" cy="278.2" rx="4.3" ry="5.8" fill="none" stroke="#111" stroke-width="1.5" stroke-dasharray="1 0.7" transform="rotate(-10 574.3 278)"/><ellipse cx="574" cy="278.5" rx="2.2" ry="3" fill="#444"/><g transform="translate(543.2,225.6) rotate(18.99)"><path d="M2,-2.3 L34.14,-2.3 Q36.44,0 34.14,2.3 L2,2.3" fill="#fff" stroke="#111" stroke-width="0.8"/><path d="M31.14,-2.3 A1.5,2.3 0 0 1 31.14,2.3" fill="none" stroke="#111" stroke-width="0.6"/><ellipse cx="1.8" cy="0" rx="2.2" ry="3.6" fill="#fff" stroke="#111" stroke-width="0.9"/><ellipse cx="0" cy="0" rx="2.8" ry="4" fill="#fff" stroke="#111" stroke-width="1.4"/><ellipse cx="-0.3" cy="0" rx="1.5" ry="2.1" fill="none" stroke="#111" stroke-width="0.8"/></g><g transform="translate(528.7,238.1) rotate(18.99)"><path d="M2,-2.3 L34.14,-2.3 Q36.44,0 34.14,2.3 L2,2.3" fill="#fff" stroke="#111" stroke-width="0.8"/><path d="M31.14,-2.3 A1.5,2.3 0 0 1 31.14,2.3" fill="none" stroke="#111" stroke-width="0.6"/><ellipse cx="1.8" cy="0" rx="2.2" ry="3.6" fill="#fff" stroke="#111" stroke-width="0.9"/><ellipse cx="0" cy="0" rx="2.8" ry="4" fill="#fff" stroke="#111" stroke-width="1.4"/><ellipse cx="-0.3" cy="0" rx="1.5" ry="2.1" fill="none" stroke="#111" stroke-width="0.8"/></g><g transform="translate(519.1,266.1) rotate(18.34)"><path d="M2,-2.3 L35.06,-2.3 Q37.36,0 35.06,2.3 L2,2.3" fill="#fff" stroke="#111" stroke-width="0.8"/><path d="M32.06,-2.3 A1.5,2.3 0 0 1 32.06,2.3" fill="none" stroke="#111" stroke-width="0.6"/><ellipse cx="1.8" cy="0" rx="2.2" ry="3.6" fill="#fff" stroke="#111" stroke-width="0.9"/><ellipse cx="0" cy="0" rx="2.8" ry="4" fill="#fff" stroke="#111" stroke-width="1.4"/><ellipse cx="-0.3" cy="0" rx="1.5" ry="2.1" fill="none" stroke="#111" stroke-width="0.8"/></g><line x1="556" y1="278.4" x2="564.4" y2="281.5" stroke="#222" stroke-width="0.7" /><line x1="667.5" y1="268.2" x2="677" y2="271" stroke="#222" stroke-width="0.7" /><path d="M671.8,272.5 L663.7,283.8 L671.8,287" fill="none" stroke="#222" stroke-width="0.7"/><line x1="648" y1="298" x2="654.2" y2="310" stroke="#222" stroke-width="0.7" /><ellipse cx="681.6" cy="272.8" rx="4.5" ry="4.2" fill="#fff" stroke="#111" stroke-width="1"/><polygon points="684.94,272.74 682.24,276.03 678.1,275.28 676.66,271.26 679.36,267.97 683.5,268.72" fill="#fff" stroke="#111" stroke-width="1.5"/><circle cx="680.8" cy="272" r="1.89" fill="none" stroke="#111" stroke-width="1"/><path d="M677.44,271.16 L679.54,272 M682.06,269.06 L681.64,270.95 M682.06,273.26 L683.32,274.94" stroke="#111" stroke-width="0.7"/><ellipse cx="676.8" cy="289.2" rx="4.5" ry="4.2" fill="#fff" stroke="#111" stroke-width="1"/><polygon points="680.14,289.14 677.44,292.43 673.3,291.68 671.86,287.66 674.56,284.37 678.7,285.12" fill="#fff" stroke="#111" stroke-width="1.5"/><circle cx="676" cy="288.4" r="1.89" fill="none" stroke="#111" stroke-width="1"/><path d="M672.64,287.56 L674.74,288.4 M677.26,285.46 L676.84,287.35 M677.26,289.66 L678.52,291.34" stroke="#111" stroke-width="0.7"/><ellipse cx="655" cy="310.8" rx="4.7" ry="4.4" fill="#fff" stroke="#111" stroke-width="1"/><polygon points="658.53,310.78 655.7,314.22 651.37,313.44 649.87,309.22 652.7,305.78 657.03,306.56" fill="#fff" stroke="#111" stroke-width="1.5"/><circle cx="654.2" cy="310" r="1.98" fill="none" stroke="#111" stroke-width="1"/><path d="M650.68,309.12 L652.88,310 M655.52,306.92 L655.08,308.9 M655.52,311.32 L656.84,313.08" stroke="#111" stroke-width="0.7"/><line x1="605.3" y1="203.4" x2="605.3" y2="224.5" stroke="#222" stroke-width="0.9" stroke-dasharray="3 1.5"/><path d="M605.6,192.3 L605.6,185.5 C605.6,179.5 607.5,176.3 612.5,177.3 L636.3,186" fill="none" stroke="#111" stroke-width="4.4" stroke-linecap="round" stroke-linejoin="round"/><path d="M605.6,192.3 L605.6,185.5 C605.6,179.5 607.5,176.3 612.5,177.3 L636.3,186" fill="none" stroke="#fff" stroke-width="2.6" stroke-linecap="round" stroke-linejoin="round"/><ellipse cx="636.5" cy="186" rx="1.1" ry="2" fill="none" stroke="#111" stroke-width="0.7" transform="rotate(-15 636.5 186)"/><ellipse cx="605.3" cy="202" rx="4" ry="1.4" fill="#fff" stroke="#111" stroke-width="1.1"/><line x1="605.3" y1="199" x2="605.3" y2="205" stroke="#111" stroke-width="1"/><path d="M507.2,278.2 Q511,278.5 511.3,279.2 L523.6,285.3 Q526,283 528.7,284.3 Q533,285.5 533.8,290 Q533,294 528.7,295.5 L530.7,304.7 Q534,307.5 533.8,310.8 Q534,316 532.8,316.9 Q530,320 528.7,319 Q525,318.5 523.6,315.9 L519.5,312.9 L505.2,286.3 Q503.5,283 504.2,281.2 Q505,278.5 507.2,278.2 Z" fill="#fff" stroke="#111" stroke-width="1"/><ellipse cx="507.7" cy="282.2" rx="1.6" ry="2" fill="#fff" stroke="#111" stroke-width="0.8"/><ellipse cx="527.2" cy="289.4" rx="1.6" ry="2" fill="#fff" stroke="#111" stroke-width="0.8"/><ellipse cx="527.2" cy="313.9" rx="1.6" ry="2" fill="#fff" stroke="#111" stroke-width="0.8"/><path d="M511,292 L519,290 A7.5,11 -15 0 1 522,310 L515,313" fill="#fff" stroke="#111" stroke-width="0.9"/><ellipse cx="511.3" cy="302.2" rx="7.2" ry="10.8" fill="#fff" stroke="#111" stroke-width="1" transform="rotate(-15 511.3 302.2)"/><ellipse cx="511.3" cy="302.2" rx="5.6" ry="8.8" fill="none" stroke="#111" stroke-width="3" stroke-dasharray="1 0.9" transform="rotate(-15 511.3 302.2)"/><ellipse cx="511.3" cy="302.2" rx="3.2" ry="5.8" fill="none" stroke="#111" stroke-width="1.6" stroke-dasharray="1 0.9" transform="rotate(-15 511.3 302.2)"/><path d="M517.4,334.3 L527.7,329.7 L514.8,318" fill="none" stroke="#222" stroke-width="0.7"/><g transform="translate(504.2,338.4) rotate(-17.26)"><path d="M2,-2.4 L12.32,-2.4 Q14.62,0 12.32,2.4 L2,2.4" fill="#fff" stroke="#111" stroke-width="0.8"/><path d="M9.32,-2.4 A1.5,2.4 0 0 1 9.32,2.4" fill="none" stroke="#111" stroke-width="0.6"/><ellipse cx="1.8" cy="0" rx="2.2" ry="3.8" fill="#fff" stroke="#111" stroke-width="0.9"/><ellipse cx="0" cy="0" rx="2.8" ry="4.2" fill="#fff" stroke="#111" stroke-width="1.4"/><ellipse cx="-0.3" cy="0" rx="1.5" ry="2.3" fill="none" stroke="#111" stroke-width="0.8"/></g><ellipse cx="504" cy="338.5" rx="3.1" ry="4.1" fill="#fff" stroke="#111" stroke-width="0.9" transform="rotate(-17 504 338.5)"/><polygon points="502.6,337.2 504.2,336.4 505.6,337.6 505.5,339.6 503.9,340.4 502.5,339.3" fill="none" stroke="#111" stroke-width="0.7"/><line x1="636.6" y1="49" x2="639.5" y2="61" stroke="#111" stroke-width="0.75" /><line x1="615.2" y1="59.2" x2="619" y2="71.8" stroke="#111" stroke-width="0.75" /><line x1="587.6" y1="71.6" x2="592.4" y2="81.9" stroke="#111" stroke-width="0.75" /><line x1="565.4" y1="78.7" x2="568.6" y2="90" stroke="#111" stroke-width="0.75" /><line x1="493.4" y1="103.4" x2="503.6" y2="113.6" stroke="#111" stroke-width="0.75" /><line x1="317.4" y1="144" x2="325.6" y2="150" stroke="#111" stroke-width="0.75" /><line x1="380.8" y1="154.8" x2="389" y2="162.4" stroke="#111" stroke-width="0.75" /><line x1="411.5" y1="143" x2="420.6" y2="151" stroke="#111" stroke-width="0.75" /><line x1="433" y1="130.7" x2="443" y2="140" stroke="#111" stroke-width="0.75" /><line x1="311.6" y1="186.7" x2="303.9" y2="191.6" stroke="#111" stroke-width="0.75" /><line x1="360.2" y1="197.3" x2="370" y2="201.5" stroke="#111" stroke-width="0.75" /><line x1="302.4" y1="230.4" x2="297.6" y2="208.6" stroke="#111" stroke-width="0.75" /><line x1="302.4" y1="230.4" x2="285.4" y2="232.4" stroke="#111" stroke-width="0.75" /><line x1="302.4" y1="230.4" x2="264.3" y2="246.7" stroke="#111" stroke-width="0.75" /><line x1="119.2" y1="147.8" x2="141.5" y2="144.2" stroke="#111" stroke-width="0.75" /><line x1="118.9" y1="150.5" x2="121.6" y2="173.2" stroke="#111" stroke-width="0.75" /><line x1="118.9" y1="150.5" x2="115.3" y2="194" stroke="#111" stroke-width="0.75" /><line x1="595.5" y1="172.5" x2="604" y2="176.7" stroke="#111" stroke-width="0.75" /><line x1="592.7" y1="196.4" x2="604" y2="202" stroke="#111" stroke-width="0.75" /><line x1="514.3" y1="236.2" x2="540.3" y2="223.7" stroke="#111" stroke-width="0.75" /><line x1="514.3" y1="236.2" x2="525.8" y2="235.2" stroke="#111" stroke-width="0.75" /><line x1="514.3" y1="236.2" x2="518.1" y2="263.2" stroke="#111" stroke-width="0.75" /><line x1="695" y1="298" x2="683" y2="275" stroke="#111" stroke-width="0.75" /><line x1="695" y1="298" x2="679.5" y2="290.5" stroke="#111" stroke-width="0.75" /><line x1="695" y1="298" x2="658" y2="311.5" stroke="#111" stroke-width="0.75" /><line x1="532.8" y1="328.2" x2="529.7" y2="320" stroke="#111" stroke-width="0.75" /><line x1="504.2" y1="342.6" x2="503.2" y2="350.6" stroke="#111" stroke-width="0.75" /><line x1="488.6" y1="319.5" x2="492.2" y2="329.2" stroke="#111" stroke-width="0.75" /><line x1="463" y1="329.2" x2="465.5" y2="339" stroke="#111" stroke-width="0.75" /><line x1="438" y1="335" x2="442.8" y2="346" stroke="#111" stroke-width="0.75" /><line x1="343.3" y1="332.5" x2="338.5" y2="350" stroke="#111" stroke-width="0.75" /><line x1="274.7" y1="354.3" x2="270.4" y2="372.5" stroke="#111" stroke-width="0.75" /><line x1="246" y1="364" x2="242.4" y2="381" stroke="#111" stroke-width="0.75" /><line x1="222" y1="371.3" x2="218" y2="388.3" stroke="#111" stroke-width="0.75" /><path d="M128.3,419.4 L139.4,404.9 L143,406.7 L157.3,399.4 L159.3,400.3 L160.5,401.9 L160.9,410.8 L144.6,418.2 L144.2,422.5 L131.1,420.8 Z" fill="#fff" stroke="#111" stroke-width="0.8" stroke-linejoin="round"/><path d="M129.8,419.8 L141.4,406.1 M143,406.7 L143.8,408.7 L159.9,401.6 M143.8,408.7 L144.6,418.2" fill="none" stroke="#111" stroke-width="0.7"/><text x="0" y="0" font-size="10" style="font-family:'Liberation Sans',sans-serif;font-weight:bold;font-style:italic" transform="translate(150.6,415) rotate(-27) skewX(-12) scale(0.8,1)">FWD</text><text x="641.5" y="70.5" font-size="10.5" transform="translate(641.5,70.5) scale(0.72,1) translate(-641.5,-70.5)">16</text><text x="621" y="81" font-size="10.5" transform="translate(621,81) scale(0.72,1) translate(-621,-81)">5</text><text x="594.3" y="90.5" font-size="10.5" transform="translate(594.3,90.5) scale(0.72,1) translate(-594.3,-90.5)">6</text><text x="570.5" y="98.5" font-size="10.5" transform="translate(570.5,98.5) scale(0.72,1) translate(-570.5,-98.5)">7</text><text x="507.4" y="120" font-size="10.5" transform="translate(507.4,120) scale(0.72,1) translate(-507.4,-120)">8</text><text x="313.3" y="145.5" font-size="10.5" transform="translate(313.3,145.5) scale(0.72,1) translate(-313.3,-145.5)">16</text><text x="392" y="170" font-size="10.5" transform="translate(392,170) scale(0.72,1) translate(-392,-170)">5</text><text x="423.7" y="159" font-size="10.5" transform="translate(423.7,159) scale(0.72,1) translate(-423.7,-159)">6</text><text x="446.2" y="147.5" font-size="10.5" transform="translate(446.2,147.5) scale(0.72,1) translate(-446.2,-147.5)">7</text><text x="312" y="187.5" font-size="10.5" transform="translate(312,187.5) scale(0.72,1) translate(-312,-187.5)">3</text><text x="373" y="207" font-size="10.5" transform="translate(373,207) scale(0.72,1) translate(-373,-207)">4</text><text x="306.6" y="236" font-size="10.5" transform="translate(306.6,236) scale(0.72,1) translate(-306.6,-236)">2</text><text x="115.9" y="150.5" font-size="10.5" transform="translate(115.9,150.5) scale(0.72,1) translate(-115.9,-150.5)">1</text><text x="591.3" y="171.8" font-size="10.5" transform="translate(591.3,171.8) scale(0.72,1) translate(-591.3,-171.8)">4</text><text x="588.5" y="195.7" font-size="10.5" transform="translate(588.5,195.7) scale(0.72,1) translate(-588.5,-195.7)">3</text><text x="509.1" y="241.3" font-size="10.5" transform="translate(509.1,241.3) scale(0.72,1) translate(-509.1,-241.3)">15</text><text x="700.4" y="305.5" font-size="10.5" transform="translate(700.4,305.5) scale(0.72,1) translate(-700.4,-305.5)">2</text><text x="536" y="337.6" font-size="10.5" transform="translate(536,337.6) scale(0.72,1) translate(-536,-337.6)">14</text><text x="501.3" y="359.5" font-size="10.5" transform="translate(501.3,359.5) scale(0.72,1) translate(-501.3,-359.5)">13</text><text x="493.4" y="338.8" font-size="10.5" transform="translate(493.4,338.8) scale(0.72,1) translate(-493.4,-338.8)">5</text><text x="466.7" y="348.5" font-size="10.5" transform="translate(466.7,348.5) scale(0.72,1) translate(-466.7,-348.5)">6</text><text x="445.2" y="354.5" font-size="10.5" transform="translate(445.2,354.5) scale(0.72,1) translate(-445.2,-354.5)">7</text><text x="344.4" y="330.2" font-size="10.5" transform="translate(344.4,330.2) scale(0.72,1) translate(-344.4,-330.2)">12</text><text x="275.2" y="353.5" font-size="10.5" transform="translate(275.2,353.5) scale(0.72,1) translate(-275.2,-353.5)">9</text><text x="246" y="362.2" font-size="10.5" transform="translate(246,362.2) scale(0.72,1) translate(-246,-362.2)">10</text><text x="224.2" y="368.7" font-size="10.5" transform="translate(224.2,368.7) scale(0.72,1) translate(-224.2,-368.7)">11</text>
</svg></body></html>
